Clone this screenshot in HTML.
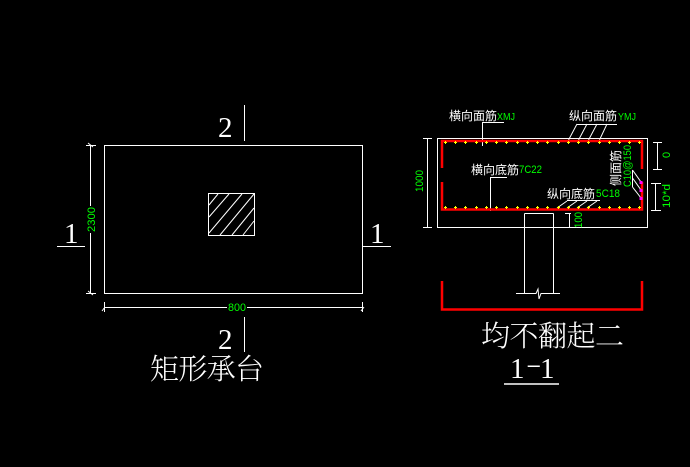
<!DOCTYPE html>
<html><head><meta charset="utf-8"><style>
html,body{margin:0;padding:0;background:#000;width:690px;height:467px;overflow:hidden}
svg{display:block}
.w{stroke:#fff;stroke-width:1;fill:none}
.r{stroke:#f00;stroke-width:2.5;fill:none}
.g{fill:#0f0;font-family:"Liberation Sans",sans-serif;font-size:11px}
.l{fill:#fff;font-family:"Liberation Sans","Noto Sans CJK SC",sans-serif;font-size:12px}
.t{fill:#fff;font-family:"Liberation Serif","Noto Serif CJK SC",serif;font-weight:300}
</style></head><body>
<svg width="690" height="467" viewBox="0 0 690 467" xmlns="http://www.w3.org/2000/svg">
<rect width="690" height="467" fill="#000"/>
<g class="w">
<rect x="104.500" y="145.500" width="258" height="148"/>
<rect x="208.500" y="193.500" width="46" height="42"/>
<path d="M209 205L218 194M209 217L229 194M209 233L242 194M220 235L254 194M232 235L254 208M243 235L254 221"/>
<path d="M90.500 145V293M86 145.500H96M88 143L93 147M86 293.500H96M88 291L93 295"/>
<path d="M104 307.500H362.500M104.500 302V312M362.500 302V312M102 311L105 307M361 311L364 307"/>
<path d="M244.500 105V141M244.500 317V352M57 246.500H85M363 246.500H391"/>
<rect x="437.500" y="138.500" width="210" height="89"/>
<path d="M427.500 138V228M423 138.500H432M423 227.500H432"/>
<path d="M524.500 213.500H553.500M524.500 213.500V293M553.500 213.500V293"/>
<path d="M516 293.500H536L538 289L539 299L541 293.500H560"/>
<path d="M504 122.500H482.500V146M507 177.500H490.500V211"/>
<path d="M577 124.500H617M577 124L568 141M587 124L578 141M597 124L588 141M607 124L599 141"/>
<path d="M567 200.500H600M567 201L557 208M577 201L567 208M587 201L577 208M597 201L587 208"/>
<path d="M632.500 170V187M632.500 170L641 182M632.500 178L641 190M632.500 187L641 198"/>
<path d="M657.500 142V169M653 142.500H662M653 169.500H662M655.500 183V211M651 183.500H661M651 210.500H661"/>
<path d="M569.500 213V227M565 213.500H571M565 227.500H571"/>
<path stroke-width="1.500" d="M504 384H559"/>
</g>
<g class="r">
<path d="M442 168V141H642V169"/>
<path d="M442 182V209.500H642V182"/>
<path d="M442 281V309.500H642V281"/>
</g>
<path stroke="#ff0" stroke-width="1" fill="none" d="M445.500 141v3M444 142.500h3M455.500 141v3M454 142.500h3M465.500 141v3M464 142.500h3M476.500 141v3M475 142.500h3M486.500 141v3M485 142.500h3M496.500 141v3M495 142.500h3M506.500 141v3M505 142.500h3M517.500 141v3M516 142.500h3M527.500 141v3M526 142.500h3M537.500 141v3M536 142.500h3M547.500 141v3M546 142.500h3M558.500 141v3M557 142.500h3M568.500 141v3M567 142.500h3M578.500 141v3M577 142.500h3M588.500 141v3M587 142.500h3M599.500 141v3M598 142.500h3M609.500 141v3M608 142.500h3M619.500 141v3M618 142.500h3M629.500 141v3M628 142.500h3M639.500 141v3M638 142.500h3"/>
<path stroke="#ff0" stroke-width="1" fill="none" d="M445.500 206v3M444 207.500h3M455.500 206v3M454 207.500h3M465.500 206v3M464 207.500h3M476.500 206v3M475 207.500h3M486.500 206v3M485 207.500h3M496.500 206v3M495 207.500h3M506.500 206v3M505 207.500h3M517.500 206v3M516 207.500h3M527.500 206v3M526 207.500h3M537.500 206v3M536 207.500h3M547.500 206v3M546 207.500h3M558.500 206v3M557 207.500h3M568.500 206v3M567 207.500h3M578.500 206v3M577 207.500h3M588.500 206v3M587 207.500h3M599.500 206v3M598 207.500h3M609.500 206v3M608 207.500h3M619.500 206v3M618 207.500h3M629.500 206v3M628 207.500h3M639.500 206v3M638 207.500h3"/>
<g fill="#f0f"><rect x="639.500" y="181" width="3" height="3"/><rect x="639.500" y="189" width="3" height="3"/><rect x="639.500" y="197" width="3" height="3"/></g>
<rect x="85" y="206" width="12" height="27" fill="#000"/>
<rect x="227" y="302" width="20" height="11" fill="#000"/>
<g class="g">
<text transform="translate(95 232) rotate(-90)" textLength="25" lengthAdjust="spacingAndGlyphs">2300</text>
<text x="228" y="311" textLength="18" lengthAdjust="spacingAndGlyphs">800</text>
<text x="497" y="120" font-size="10" textLength="18" lengthAdjust="spacingAndGlyphs">XMJ</text>
<text x="618" y="120" font-size="10" textLength="18" lengthAdjust="spacingAndGlyphs">YMJ</text>
<text x="519" y="173" textLength="23" lengthAdjust="spacingAndGlyphs">7C22</text>
<text x="596" y="197" textLength="24" lengthAdjust="spacingAndGlyphs">5C18</text>
<text transform="translate(631 187) rotate(-90)" textLength="42" lengthAdjust="spacingAndGlyphs">C10@150</text>
<text transform="translate(670 158) rotate(-90)">0</text>
<text transform="translate(670 208) rotate(-90)" textLength="24" lengthAdjust="spacingAndGlyphs">10*d</text>
<text transform="translate(582 228) rotate(-90)" textLength="16" lengthAdjust="spacingAndGlyphs">100</text>
<text transform="translate(423 192) rotate(-90)" textLength="22" lengthAdjust="spacingAndGlyphs">1000</text>
</g>
<g class="l">
<text x="449" y="120">横向面筋</text>
<text x="569" y="120">纵向面筋</text>
<text x="471" y="174">横向底筋</text>
<text x="547" y="198">纵向底筋</text>
<text transform="translate(620 186) rotate(-90)">侧面筋</text>
</g>
<g class="t" font-size="29">
<text x="218" y="137">2</text>
<text x="218" y="349">2</text>
<text x="64" y="243">1</text>
<text x="370" y="243">1</text>
<text x="150" y="379" textLength="114">矩形承台</text>
<text x="481" y="346" textLength="143">均不翻起二</text>
<text x="510" y="378">1</text>
<text transform="translate(526 371) scale(1.600 .7)">-</text>
<text x="540" y="378">1</text>
</g>
</svg>
</body></html>
